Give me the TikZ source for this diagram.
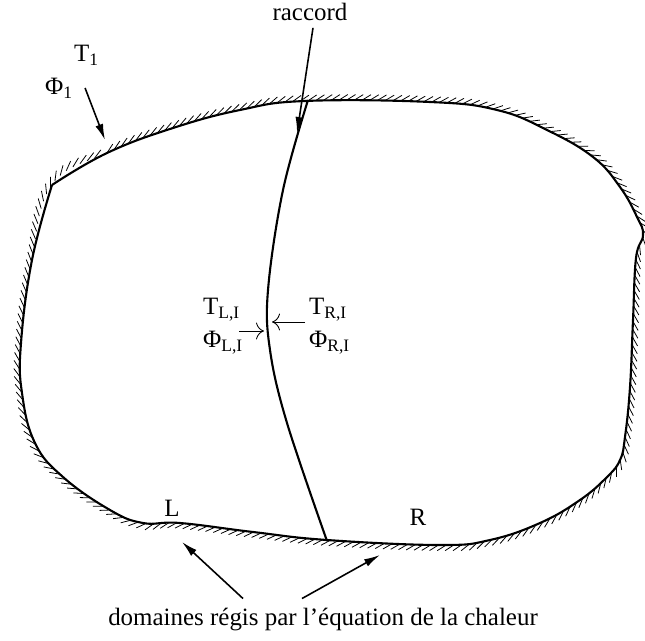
\documentclass[tikz,border=0pt]{standalone}
\usepackage{fontspec}
\setmainfont{Liberation Serif}
\usepackage{tikz}
\usetikzlibrary{
  arrows.meta,
  calc,
  decorations.pathreplacing
}
\tikzset{
  wall/.style={
    line width=1.2pt,
    line join=round
  },
  hatch/.style={
    line width=0.45pt,
    decorate,
    decoration={border, segment length=4.4pt, amplitude=6pt, angle=32}
  },
  pointer/.style={
    -{Latex[length=3.2mm,width=1.6mm]},
    line width=0.9pt
  },
  flux/.style={
    -{To[length=1.6mm]},
    line width=0.5pt
  },
  lbl/.style={
    inner sep=1pt,
    font=\fontsize{14.2}{17}\selectfont
  }
}

\begin{document}
\begin{tikzpicture}[x=0.02cm,y=-0.02cm]
\useasboundingbox (0,0) rectangle (645,641);

% contour du domaine
\draw[hatch] plot[smooth cycle,tension=0.7] coordinates {(52,185) (107,153) (173,128) (240,110) (305,101) (430,102) (497,110) (547,130) (593,157) (620,187) (637,217) (643,235) (636,258) (633,320) (630,387) (625,437) (620,460) (607,477) (580,500) (540,523) (490,540) (440,545) (327,540) (253,532) (180,523) (143,523) (110,510) (63,477) (35,443) (22,393) (21,343) (32,260)};
\draw[wall] plot[smooth,tension=0.7] coordinates {(52,185) (107,153) (173,128) (240,110) (305,101) (430,102) (497,110) (547,130) (593,157) (620,187) (637,217) (643,235) (636,258) (633,320) (630,387) (625,437) (620,460) (607,477) (580,500) (540,523) (490,540) (440,545) (327,540) (253,532) (180,523) (143,523) (110,510) (63,477) (35,443) (22,393) (21,343) (32,260) (52,185)};

% raccord entre L et R
\draw[wall] plot[smooth,tension=0.6] coordinates {(308,100) (283,190) (268,290) (270,350) (287,423) (327,541)};

% textes
\node[lbl] (raccord) at (310,12) {raccord};
\node[lbl,anchor=west] (tone) at (72,55) {T\textsubscript{1}};
\node[lbl,anchor=west] (phione) at (43,88) {Φ\textsubscript{1}};
\node[lbl,anchor=west] (tli) at (201,310) {T\textsubscript{L,I}};
\node[lbl,anchor=west] (phili) at (201,343) {Φ\textsubscript{L,I}};
\node[lbl,anchor=west] (tri) at (307,310) {T\textsubscript{R,I}};
\node[lbl,anchor=west] (phiri) at (307,343) {Φ\textsubscript{R,I}};
\node[lbl] (left) at (172,508) {L};
\node[lbl] (right) at (418,517) {R};
\node[lbl] (domaines) at (323,620) {domaines régis par l’équation de la chaleur};

% fleches
\coordinate (racctip) at (297,133);
\coordinate (walltip) at (105,140);
\coordinate (ltip) at (264,331);
\coordinate (rtip) at (272,322);
\coordinate (lowtip) at (182,542);
\coordinate (midtip) at (380,555);
\draw[pointer] ($(raccord.south)+(3,5)$) -- (racctip);
\draw[pointer] ($(phione.east)+(10,0)$) -- (walltip);
\draw[flux] ($(tli.east)+(-3,21)$) -- (ltip);
\draw[flux] ($(tri.west)+(-2,12)$) -- (rtip);
\draw[pointer] ($(domaines.north)+(-80,-8)$) -- (lowtip);
\draw[pointer] ($(domaines.north)+(-21,-8)$) -- (midtip);
\end{tikzpicture}
\end{document}
